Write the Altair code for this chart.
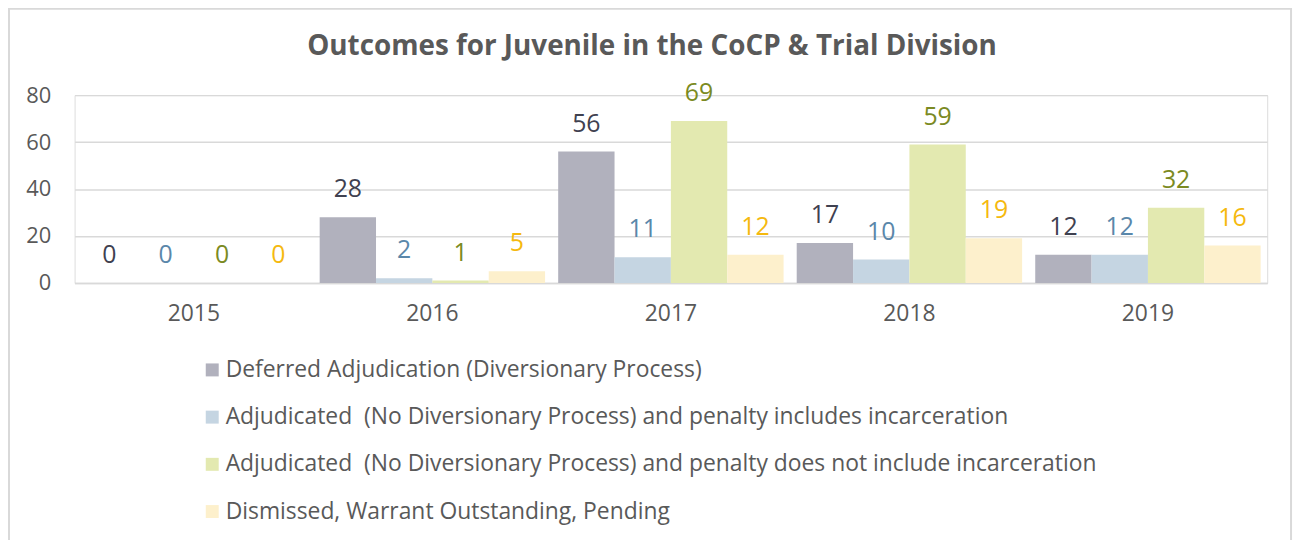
import altair as alt
import pandas as pd

years = ["2015", "2016", "2017", "2018", "2019"]
categories = [
    "Deferred Adjudication (Diversionary Process)",
    "Adjudicated\u00a0 (No Diversionary Process) and penalty includes incarceration",
    "Adjudicated\u00a0 (No Diversionary Process) and penalty does not include incarceration",
    "Dismissed, Warrant Outstanding, Pending",
]
deferred = [0, 28, 56, 17, 12]
adj_incarc = [0, 2, 11, 10, 12]
adj_no_incarc = [0, 1, 69, 59, 32]
dismissed = [0, 5, 12, 19, 16]

bar_colors = ["#b1b1bd", "#c5d5e2", "#e3e9b0", "#fdf0cc"]
text_colors = ["#3f4150", "#5a87aa", "#7b8a22", "#f5b90f"]

series = [deferred, adj_incarc, adj_no_incarc, dismissed]
rows = []
for cat, vals in zip(categories, series):
    for y, v in zip(years, vals):
        rows.append({"year": y, "cat": cat, "value": v})
df = pd.DataFrame(rows)

FONT = "Open Sans"
GREY = "#595959"

x_enc = alt.X("year:N", sort=years, title=None,
              scale=alt.Scale(paddingInner=0.055, paddingOuter=0.0275),
              axis=alt.Axis(labelAngle=0, ticks=False, domain=True,
                            domainColor="#d9d9d9", domainWidth=1.5,
                            labelPadding=20, labelFontSize=23,
                            labelColor=GREY, labelFont=FONT, grid=False))
xo_enc = alt.XOffset("cat:N", sort=categories, scale=alt.Scale(paddingInner=0, paddingOuter=0))
y_enc = alt.Y("value:Q", title=None,
              scale=alt.Scale(domain=[0, 80], nice=False),
              axis=alt.Axis(values=[0, 20, 40, 60, 80], grid=True,
                            gridColor="#d9d9d9", gridWidth=1.5,
                            domain=False, ticks=False, labelPadding=24,
                            labelFontSize=22, labelColor=GREY, labelFont=FONT))

base = alt.Chart(df)

bars = base.mark_bar().encode(
    x=x_enc, xOffset=xo_enc, y=y_enc,
    color=alt.Color("cat:N", sort=categories,
                    scale=alt.Scale(domain=categories, range=bar_colors),
                    legend=alt.Legend(orient="none", legendX=127, legendY=265,
                                      direction="vertical", title=None,
                                      labelFontSize=23, labelColor=GREY,
                                      labelFont=FONT, symbolType="square",
                                      symbolSize=170, symbolStrokeWidth=0,
                                      rowPadding=23.5, labelOffset=2,
                                      labelLimit=1000)),
)

labels = base.mark_text(baseline="middle", dy=-28, fontSize=25, font=FONT).encode(
    x=x_enc, xOffset=xo_enc, y=y_enc,
    text=alt.Text("value:Q"),
    color=alt.Color("cat:N", sort=categories,
                    scale=alt.Scale(domain=categories, range=text_colors),
                    legend=None),
)

frame = alt.Chart(pd.DataFrame({"a": [0]})).mark_rect(
    filled=False, stroke="#d9d9d9", strokeWidth=2
).encode(x=alt.value(-66), x2=alt.value(1224), y=alt.value(-87), y2=alt.value(600))

chart = alt.layer(frame, bars, labels).resolve_scale(color="independent").properties(
    width=1200, height=189,
    autosize=alt.AutoSizeParams(type="none"),
    padding={"left": 67, "top": 86, "right": 32, "bottom": 262},
    title=alt.TitleParams("Outcomes for Juvenile in the CoCP & Trial Division",
                          fontSize=28, font=FONT, fontWeight="bold", color=GREY,
                          anchor="middle", dx=-19, offset=-54),
).configure_view(stroke=None).configure(background="white")

chart.save("out.html", embed_options={"renderer": "svg", "actions": False})
